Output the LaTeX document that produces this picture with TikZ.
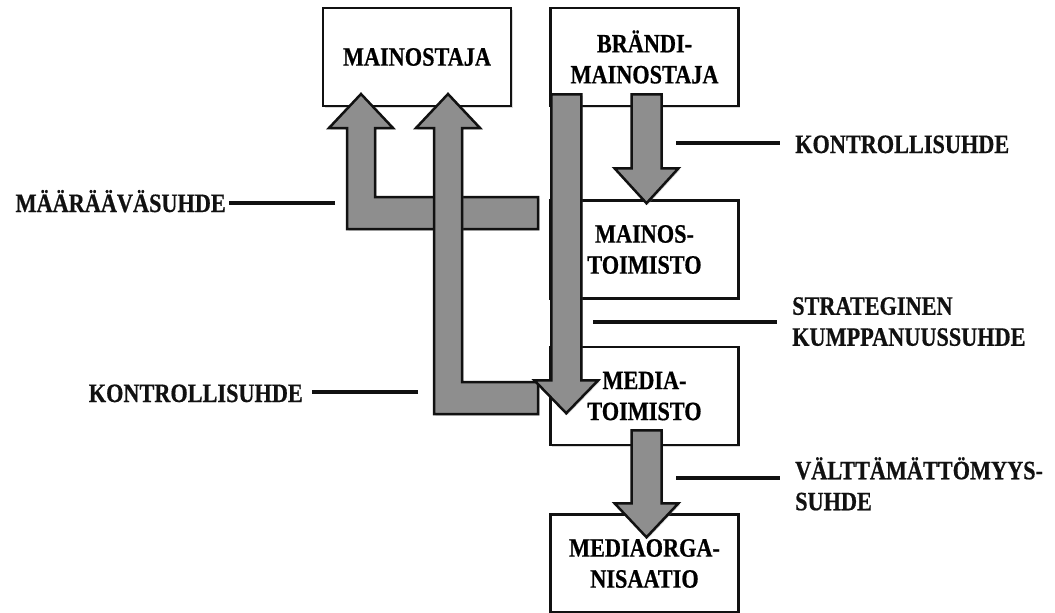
\documentclass[tikz,border=0pt]{standalone}
\usepackage{fontspec}
\setmainfont{Liberation Serif}[FakeStretch=0.84, BoldFeatures={FakeBold=0.6}]
\usetikzlibrary{positioning, calc, shadows}
\definecolor{ink}{HTML}{111111}
\definecolor{blockgray}{HTML}{8E8E8E}

\begin{document}
\begin{tikzpicture}[
  x=1pt, y=-1pt,
  font=\fontsize{26.5}{31}\selectfont\bfseries,
  party/.style={draw=ink, fill=white, line width=2.5pt,
              minimum width=188pt, minimum height=98pt, align=center, inner sep=2pt,
              drop shadow={shadow xshift=1.5pt, shadow yshift=-1.5pt, opacity=0.3}},
  blk/.style={draw=ink, fill=blockgray, line width=2.5pt, line join=miter,
              drop shadow={shadow xshift=1.5pt, shadow yshift=-1.5pt, opacity=0.3}},
  lbl/.style={inner sep=0pt, align=left, text=ink},
  leader/.style={draw=ink, line width=3.8pt}
]
  \useasboundingbox (0,0) rectangle (1055,613);

  % Parties
  \node[party] (mainostaja) at (417,57) {MAINOSTAJA};
  \node[party, right=37pt of mainostaja] (brandi) {BRÄNDI-\\MAINOSTAJA};
  \node[party, below=92pt of brandi] (mainos) {MAINOS-\\TOIMISTO};
  \node[party, below=46pt of mainos] (media) {MEDIA-\\TOIMISTO};
  \node[party, below=67pt of media] (mediaorg) {MEDIAORGA-\\NISAATIO};

  % Block arrows up to the advertiser
  \draw[blk] (538,197) -- ++(0,32) -- ++(-191,0) -- ++(0,-101) -- ++(-18,0)
      -- ++(32,-34) -- ++(32,34) -- ++(-18,0) -- ++(0,69) -- cycle;
  \draw[blk] (538,382) -- ++(0,32) -- ++(-104,0) -- ++(0,-286) -- ++(-18,0)
      -- ++(32,-34) -- ++(32,34) -- ++(-18,0) -- ++(0,254) -- cycle;

  % Block arrows down the chain
  \draw[blk] ([xshift=-13pt,yshift=13pt]brandi.south) -- ++(30,0) -- ++(0,74)
      -- ++(17,0) -- ++(-32,35) -- ++(-32,-35) -- ++(17,0) -- cycle;
  \draw[blk] ([xshift=-13pt,yshift=16pt]media.south) -- ++(30,0) -- ++(0,73)
      -- ++(17,0) -- ++(-32,34) -- ++(-32,-34) -- ++(17,0) -- cycle;
  \draw[blk] ([xshift=2pt,yshift=13pt]brandi.south west) -- ++(30,0) -- ++(0,286)
      -- ++(17,0) -- ++(-32,33) -- ++(-32,-33) -- ++(17,0) -- cycle;

  % Relation labels
  \node[lbl, anchor=base west] (kontrolliR) at (795,153) {KONTROLLISUHDE};
  \node[lbl, anchor=north west] (strateg) at (792,297) {STRATEGINEN\\KUMPPANUUSSUHDE};
  \node[lbl, anchor=north west] (valttam) at (795,457) {VÄLTTÄMÄTTÖMYYS-\\SUHDE};
  \node[lbl, anchor=base east] (maaraava) at (226,212) {MÄÄRÄÄVÄSUHDE};
  \node[lbl, anchor=base east] (kontrolliL) at (303,402) {KONTROLLISUHDE};

  \coordinate (kR) at (676,143);
  \coordinate (st) at (593,322);
  \coordinate (va) at (676,478);
  \coordinate (ma) at (335,203);
  \coordinate (kL) at (418,392);

  \draw[leader] (kR) -- ([xshift=-15pt]kR -| kontrolliR.west);
  \draw[leader] (st) -- ([xshift=-15pt]st -| strateg.west);
  \draw[leader] (va) -- ([xshift=-15pt]va -| valttam.west);
  \draw[leader] (ma) -- ([xshift=3pt]ma -| maaraava.east);
  \draw[leader] (kL) -- ([xshift=9pt]kL -| kontrolliL.east);
\end{tikzpicture}
\end{document}
